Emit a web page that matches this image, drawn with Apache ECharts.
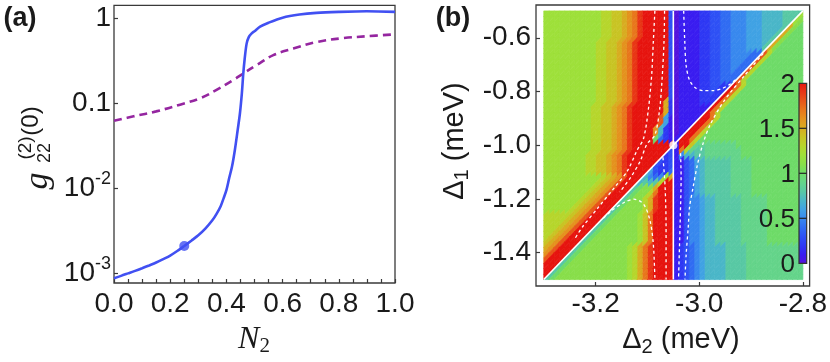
<!DOCTYPE html>
<html>
<head>
<meta charset="utf-8">
<script src="https://cdn.jsdelivr.net/npm/echarts@6.0.0/dist/echarts.min.js"></script>
<style>
html,body{margin:0;padding:0;background:#ffffff;}
#chart{width:830px;height:362px;}
</style>
</head>
<body>
<div id="chart"></div>
<script>
// ================= Panel (a): g22^(2)(0) versus N2 =================
const xTicksA = [0, 0.2, 0.4, 0.6, 0.8, 1.0];
const yTicksA = [0.001, 0.01, 0.1, 1];
const solidN2 = [0, 0.025, 0.05, 0.075, 0.1, 0.125, 0.15, 0.175, 0.2, 0.225, 0.25, 0.275, 0.3, 0.325, 0.35, 0.365, 0.38, 0.39, 0.4, 0.41, 0.42, 0.43, 0.44, 0.448, 0.455, 0.46, 0.465, 0.472, 0.48, 0.49, 0.5, 0.52, 0.55, 0.6, 0.66, 0.72, 0.8, 0.9, 1.0];
const solidG2 = [0.000879, 0.000935, 0.00100, 0.00107, 0.00115, 0.00124, 0.00134, 0.00147, 0.00162, 0.00183, 0.0021, 0.00242, 0.0028, 0.00335, 0.0042, 0.0050, 0.0062, 0.0076, 0.0095, 0.0132, 0.018, 0.028, 0.048, 0.075, 0.13, 0.22, 0.33, 0.50, 0.60, 0.66, 0.70, 0.79, 0.88, 1.01, 1.10, 1.15, 1.18, 1.20, 1.18];
const dashedN2 = [0, 0.07, 0.15, 0.235, 0.306, 0.365, 0.425, 0.46, 0.508, 0.567, 0.638, 0.721, 0.816, 0.899, 1.0];
const dashedG2 = [0.062, 0.070, 0.080, 0.096, 0.114, 0.143, 0.187, 0.223, 0.28, 0.366, 0.437, 0.522, 0.58, 0.61, 0.643];
const markerN2 = [0.25];
const markerG2 = [0.0021];

// ================= Panel (b): map of g22^(2)(0) over (Delta2, Delta1) =================
const xTicksB = [-3.2, -3.0, -2.8];
const yTicksB = [-1.4, -1.2, -1.0, -0.8, -0.6];
const colorbarTicks = [0, 0.5, 1, 1.5, 2];
const mapDelta2Range = [-3.3, -2.8];   // columns: left -> right (cell centres at mid-column)
const mapDelta1Range = [-0.5, -1.5];   // rows: first row centred on top edge, last row on bottom edge
const mapLevels = "0123456789abcdefghijk"; // level index / 10 = g value (0 ... 2)
const mapRows = [
"cccccccccccddeefghjkkkkk30111122334455566677778888",
"cccccccccccddeefghjkkkkk3011112233445556667777888c",
"cccccccccccddeefghjkkkkk301111223344555666777788cb",
"cccccccccccddeefghjkkkkk30111122334455566677778fba",
"cccccccccccddeefghjkkkkk3011112233445556667778fbaa",
"cccccccccccddeefghjkkkkk301111223344555666778fbaaa",
"ccccccccccddeefghjkkkkkk30111122334455566678fbaaaa",
"ccccccccccddeefghjkkkkkk3011112233445556668fbaaaaa",
"ccccccccccddeefghjkkkkkk301111223344555544idaaaaaa",
"ccccccccccddeefghjkkkkkk30111122334455544idaaaaaaa",
"ccccccccccddeefghjkkkkkk3011112233445544idaaaaaaaa",
"ccccccccccddeefghjkkkkkk301111223344544idaaaaaaaaa",
"ccccccccccddeefghjkkkkkk30111122334444idaaaaaaaaaa",
"ccccccccccddeefghjkkkkkk3011112233444idaaaaaaaaaaa",
"ccccccccccddeefghjkkkkkk301111223322khdaaaaaaaaaaa",
"ccccccccccddeefghjkkkkkk30111122322khdaaaaaaaaaaaa",
"ccccccccccddeefghjkkkkkk3011112222khdaaaaaaaaaaaaa",
"ccccccccccddeefghjkkkkkf201111222khdaaaaaaaaaaaaaa",
"cccccccccddeefghjkkkkkkf20111111khdaaaaaaaaaaaaaaa",
"cccccccccddeefghjkkkkkkf2011111khdaaaaaaaaaaaaaaaa",
"cccccccccddeefghjkkkkki6101111kkhdaaaaaaaaaaaaaaaa",
"cccccccccddeefghjkkkkki610111kkhdaaaaaaaaaaaaaaaaa",
"cccccccccddeefghjkkkkg721011kkhdaaaaaaaaaaaaaaaaaa",
"cccccccccddeefghjkkkkg72101kkhdaaaaaaaaaaaaaaaaaaa",
"cccccccccddeefghjkkkka4211kkhdaaaaaaaaaaaaaaaaaaaa",
"cccccccccddeefghjkkkkkkkk1kke99999999aaaaaaaaaaaaa",
"cccccccccddeefghjkkkkkkk31hd9889999999aaaaaaaaaaaa",
"ccccccccddeefghjkkkkkkk231577889999999aaaaaaaaaaaa",
"ccccccccddeefghjkkkkkk323113467888889999aaaaaaaaaa",
"ccccccccddeefghjkkkkk3223113467888889999aaaaaaaaaa",
"ccccccccddeefghjkkkk63224113467888889999aaaaaaaaaa",
"cccccccccccdefgikkk7545cf113467888889999aaaaaaaaaa",
"ccccccccccdefgikkk7878dkk113467888889999aaaaaaaaaa",
"cccccccccdefgikkk8abbfkkk113467888889999aaaaaaaaaa",
"ccccccccdefgikkk8abbdhkkk113467888889999aaaaaaaaaa",
"cccccccdefgikkk8abbdfjkkk113556778888899999aaaaaaa",
"ccccccdefgikkk8abbbdfjkkk113556778888899999aaaaaaa",
"cccccdefgikkk8abbbbdfjkkk113556778888899999aaaaaaa",
"dddddefgikkk8abbbbcehkkkk113556778888899999aaaaaaa",
"ddddefgikkk8abbbbbcehkkkk113556778888899999aaaaaaa",
"dddefgikkk8abbbbbbcehkkkk113556778888899999aaaaaaa",
"ddefgikkk8abbbbbbbcehkkkk113556778888899999aaaaaaa",
"defgikkk8abbbbbbbbcehkkkk113556778888899999aaaaaaa",
"efgikkk8abbbbbbbbbcehkkkk113556778888899999aaaaaaa",
"fgikkk8abbbbbbbbcdfhjkkkk1234567777888899999999999",
"gikkk8abbbbbbbbbcdfhjkkkk1234567777888899999999999",
"ikkk8abbbbbbbbbbcdfhjkkkk1234567777888899999999999",
"kkk8abbbbbbbbbbbcdfhjkkkk1234567777888899999999999",
"kk8abbbbbbbbbbbbcdfhjkkkk1234567777888899999999999",
"k8abbbbbbbbbbbbbcdfhjkkkk1234567777888899999999999",
"8abbbbbbbbbbbbbbcdfhjkkkk1234567777888899999999999"
];
const resonanceVertical = [[-3.05, -1.5], [-3.05, -0.5]];
const resonanceDiagonal = [[-3.3, -1.5], [-2.8, -0.5]];
const crossingPoint = [[-3.05, -1.0]];
const contourUL1 = [[-3.0856,-0.5],[-3.0886,-0.6145],[-3.0918,-0.7387],[-3.0979,-0.8625],[-3.1073,-0.974],[-3.1199,-1.0186],[-3.1386,-1.0955],[-3.1635,-1.1572],[-3.1948,-1.2316],[-3.226,-1.306],[-3.2416,-1.3532]];
const contourUL2 = [[-3.0669,-0.5],[-3.068,-0.6145],[-3.0712,-0.7387],[-3.0762,-0.8625],[-3.0856,-0.9617],[-3.1011,-0.9963],[-3.1137,-1.0584],[-3.1324,-1.1201],[-3.1536,-1.1747]];
const contourUR = [[-3.030,-0.5],[-3.028,-0.61],[-3.0253,-0.703],[-3.0187,-0.758],[-3.0075,-0.786],[-2.9906,-0.797],[-2.9738,-0.797],[-2.955,-0.788],[-2.94,-0.772],[-2.925,-0.748]];
const contourLR = [[-2.8764,-0.658],[-2.9139,-0.7435],[-2.9513,-0.8327],[-2.9794,-0.9257],[-2.9931,-0.9963],[-3.0037,-1.0743],[-3.0118,-1.1561],[-3.0187,-1.2305],[-3.0212,-1.3048],[-3.0253,-1.4089],[-3.0275,-1.5]];
const contourLRin = [[-3.036,-1.03],[-3.035,-1.12],[-3.037,-1.3],[-3.04,-1.5]];
const contourLL = [[-3.185,-1.272],[-3.17,-1.245],[-3.1448,-1.213],[-3.126,-1.2007],[-3.1073,-1.2193],[-3.0949,-1.2814],[-3.0886,-1.368],[-3.0856,-1.4918],[-3.0855,-1.5]];
const contourLLin = [[-3.07,-1.045],[-3.066,-1.15],[-3.064,-1.3],[-3.064,-1.5]];

// colour scale 0 ... 2 (step 0.1)
const palette = ['#5412DC','#3A1CF0','#2E38F4','#2E50F5','#306CF2','#3888EE','#40A2E4','#4AB6C8','#58C8A4','#64D48A',
                 '#6EDB68','#88DE4A','#9EE03A','#B6D62C','#C8C424','#D8AC20','#E4921E','#E8761C','#E8561A','#E83616','#E6140F'];

// ================= build =================
const FONT = '"Liberation Sans", Arial, Helvetica, sans-serif';
const SERIF = '"Liberation Serif", "Times New Roman", serif';
const INK = '#1a1a1a';
const FRAME = '#3a3a3a';

const nCols = mapRows[0].length, nRows = mapRows.length;
const dU = (mapDelta2Range[1] - mapDelta2Range[0]) / nCols;
const dV = (mapDelta1Range[0] - mapDelta1Range[1]) / (nRows - 1);
// cells are sheared along the two-photon resonance line so that both resonances follow cell edges
const SLOPE = (resonanceDiagonal[1][1] - resonanceDiagonal[0][1]) / (resonanceDiagonal[1][0] - resonanceDiagonal[0][0]);
const heatData = [];
const badRows = [];
mapRows.forEach((row, j) => {
  if (row.length !== nCols) badRows.push(j + ':' + row.length);
  for (let i = 0; i < row.length; i++) {
    heatData.push([mapDelta2Range[0] + (i + 0.5) * dU, mapDelta1Range[0] - j * dV, mapLevels.indexOf(row[i]) / 10]);
  }
});
function clipAxis(pts, axis, bound, keepGreater) {
  const out = [];
  for (let k = 0; k < pts.length; k++) {
    const a = pts[k], b = pts[(k + 1) % pts.length];
    const ina = keepGreater ? a[axis] >= bound - 1e-12 : a[axis] <= bound + 1e-12;
    const inb = keepGreater ? b[axis] >= bound - 1e-12 : b[axis] <= bound + 1e-12;
    if (ina) out.push(a);
    if (ina !== inb) {
      const t = (bound - a[axis]) / (b[axis] - a[axis]);
      out.push([a[0] + t * (b[0] - a[0]), a[1] + t * (b[1] - a[1])]);
    }
  }
  return out;
}

const solidData = solidN2.map((n, k) => [n, Math.log10(solidG2[k])]);
const dashedData = dashedN2.map((n, k) => [n, Math.log10(dashedG2[k])]);
const markerData = markerN2.map((n, k) => [n, Math.log10(markerG2[k])]);

function txt(x, y, text, style, extra) {
  return Object.assign({
    type: 'text', x: x, y: y, silent: true, z: 100,
    style: Object.assign({ text: text, fill: INK, align: 'center', verticalAlign: 'middle', font: '28px ' + FONT }, style)
  }, extra || {});
}

const contourStyle = { color: '#ffffff', width: 1.3, type: [3, 3] };
function contour(data) {
  return { type: 'line', xAxisIndex: 1, yAxisIndex: 1, data: data, showSymbol: false, smooth: 0.3, silent: true, z: 4,
           lineStyle: contourStyle };
}

// colour bar geometry (screen)
const cbX = 799, cbY = 83.3, cbW = 7.7, cbH = 180;
const cbStops = palette.map((c, k) => ({ offset: 1 - k / (palette.length - 1), color: c })).reverse();
const graphics = [
  txt(20, 19, '(a)', { font: 'bold 27px ' + FONT }),
  txt(453, 19, '(b)', { font: 'bold 27px ' + FONT }),
  txt(254, 340, '{n|N}{s|2}', { rich: {
      n: { fontFamily: SERIF, fontStyle: 'italic', fontSize: 32, lineHeight: 34, fill: INK },
      s: { fontFamily: SERIF, fontSize: 21, lineHeight: 22, verticalAlign: 'bottom', fill: INK } } }),
  txt(38, 181, 'g', { font: 'italic 34px ' + SERIF }, { rotation: Math.PI / 2 }),
  txt(26, 148, '(2)', { font: '19px ' + FONT }, { rotation: Math.PI / 2 }),
  txt(45, 153, '22', { font: '18px ' + FONT }, { rotation: Math.PI / 2 }),
  txt(31, 121, '(0)', { font: '24px ' + FONT }, { rotation: Math.PI / 2 }),
  txt(681, 340, '{d|\u0394}{s|2}{m| (meV)}', { rich: {
      d: { fontFamily: FONT, fontSize: 29, lineHeight: 34, fill: INK },
      s: { fontFamily: FONT, fontSize: 20, lineHeight: 20, verticalAlign: 'bottom', fill: INK },
      m: { fontFamily: FONT, fontSize: 29, lineHeight: 34, fill: INK } } }),
  txt(455, 141, '{d|\u0394}{s|1}{m| (meV)}', { rich: {
      d: { fontFamily: FONT, fontSize: 29, lineHeight: 34, fill: INK },
      s: { fontFamily: FONT, fontSize: 20, lineHeight: 20, verticalAlign: 'bottom', fill: INK },
      m: { fontFamily: FONT, fontSize: 29, lineHeight: 34, fill: INK } } }, { rotation: Math.PI / 2 }),
  { type: 'rect', silent: true, z: 90, shape: { x: cbX, y: cbY, width: cbW, height: cbH },
    style: { fill: new echarts.graphic.LinearGradient(0, 0, 0, 1, cbStops), stroke: '#333', lineWidth: 1.2 } }
];
colorbarTicks.forEach(t => {
  const yy = cbY + cbH * (1 - t / 2);
  if (t > 0 && t < 2) graphics.push({ type: 'line', silent: true, z: 91, shape: { x1: cbX, y1: yy, x2: cbX + cbW, y2: yy }, style: { stroke: '#222', lineWidth: 1.2 } });
  graphics.push(txt(795, yy + 2, String(t), { font: '26px ' + FONT, align: 'right' }));
});
if (badRows.length) graphics.push(txt(415, 180, 'BAD ROWS ' + badRows.join(','), { fill: '#f00', font: '14px ' + FONT }));

const tickStyle = { color: FRAME, width: 1.2 };
const chart = echarts.init(document.getElementById('chart'), null, { renderer: 'canvas', width: 830, height: 362 });
chart.setOption({
  animation: false,
  backgroundColor: '#ffffff',
  textStyle: { fontFamily: FONT },
  grid: [
    { left: 114, top: 3, width: 281, height: 280, show: true, borderColor: FRAME, borderWidth: 1.3, backgroundColor: 'rgba(0,0,0,0)' },
    { left: 536, top: 5, width: 282, height: 281, show: true, borderColor: FRAME, borderWidth: 1.3, backgroundColor: 'rgba(0,0,0,0)' }
  ],
  xAxis: [
    { gridIndex: 0, type: 'value', min: 0, max: 1, interval: 0.2, position: 'bottom',
      axisLine: { show: false, onZero: false }, splitLine: { show: false },
      axisTick: { show: true, inside: true, length: 4, lineStyle: tickStyle },
      minorTick: { show: true, splitNumber: 4, length: 4, lineStyle: tickStyle },
      axisLabel: { formatter: v => v.toFixed(1), fontSize: 28, color: INK, margin: 7, fontFamily: FONT } },
    { gridIndex: 1, type: 'value', min: -3.315, max: -2.787, position: 'bottom',
      axisLine: { show: false, onZero: false }, splitLine: { show: false },
      axisTick: { show: true, inside: true, length: 4, customValues: xTicksB, lineStyle: tickStyle },
      axisLabel: { customValues: xTicksB, formatter: v => v.toFixed(1), fontSize: 28, color: INK, margin: 4, fontFamily: FONT } }
  ],
  yAxis: [
    { gridIndex: 0, type: 'value', min: -3.113, max: 0.148, position: 'left',
      axisLine: { show: false, onZero: false }, splitLine: { show: false },
      axisTick: { show: true, inside: true, length: 4, customValues: yTicksA.map(Math.log10), lineStyle: tickStyle },
      axisLabel: { customValues: yTicksA.map(Math.log10), margin: 3, fontSize: 28, lineHeight: 36, color: INK, fontFamily: FONT,
        formatter: v => { const e = Math.round(v); if (e === 0) return '1'; if (e === -1) return '0.1'; return '10{sup|' + e + '}'; },
        rich: { sup: { fontSize: 18, lineHeight: 16, verticalAlign: 'top', color: INK, fontFamily: FONT } } } },
    { gridIndex: 1, type: 'value', min: -1.524, max: -0.478, position: 'left',
      axisLine: { show: false, onZero: false }, splitLine: { show: false },
      axisTick: { show: true, inside: true, length: 4, customValues: yTicksB, lineStyle: tickStyle },
      axisLabel: { customValues: yTicksB, formatter: v => v.toFixed(1), fontSize: 28, color: INK, margin: 5, fontFamily: FONT } }
  ],
  visualMap: { show: false, type: 'continuous', min: 0, max: 2, dimension: 2, seriesIndex: 0, inRange: { color: palette } },
  series: [
    { type: 'custom', xAxisIndex: 1, yAxisIndex: 1, data: heatData, silent: true, z: 1,
      encode: { x: 0, y: 1 },
      renderItem: (params, api) => {
        const u = api.value(0), v = api.value(1);
        const h = dU / 2, hv = dV / 2, mh = SLOPE * h;
        let poly = [[u - h, v + hv - mh], [u + h, v + hv + mh], [u + h, v - hv + mh], [u - h, v - hv - mh]];
        poly = clipAxis(poly, 0, mapDelta2Range[0], true);
        poly = clipAxis(poly, 0, mapDelta2Range[1], false);
        poly = clipAxis(poly, 1, mapDelta1Range[1], true);
        poly = clipAxis(poly, 1, mapDelta1Range[0], false);
        if (poly.length < 3) return null;
        const col = api.visual('color');
        return { type: 'polygon', shape: { points: poly.map(p => api.coord(p)) },
                 style: { fill: col, stroke: col, lineWidth: 0.7 } };
      } },
    { type: 'line', xAxisIndex: 1, yAxisIndex: 1, data: resonanceVertical, showSymbol: false, silent: true, z: 5, lineStyle: { color: '#fff', width: 1.6 } },
    { type: 'line', xAxisIndex: 1, yAxisIndex: 1, data: resonanceDiagonal, showSymbol: false, silent: true, z: 5, lineStyle: { color: '#fff', width: 1.6 } },
    contour(contourUL1), contour(contourUL2), contour(contourUR), contour(contourLR), contour(contourLRin), contour(contourLL), contour(contourLLin),
    { type: 'scatter', xAxisIndex: 1, yAxisIndex: 1, data: crossingPoint, symbolSize: 8, silent: true, z: 6, itemStyle: { color: '#fff' } },
    { type: 'line', xAxisIndex: 0, yAxisIndex: 0, data: dashedData, showSymbol: false, smooth: 0.4, silent: true, z: 3,
      lineStyle: { color: '#9526A0', width: 2.6, type: [8, 5] } },
    { type: 'line', xAxisIndex: 0, yAxisIndex: 0, data: solidData, showSymbol: false, smooth: 0.3, silent: true, z: 4,
      lineStyle: { color: '#4150F2', width: 2.6 } },
    { type: 'scatter', xAxisIndex: 0, yAxisIndex: 0, data: markerData, symbolSize: 10, silent: true, z: 5, itemStyle: { color: '#4150F2' } }
  ],
  graphic: graphics
});
</script>
</body>
</html>
